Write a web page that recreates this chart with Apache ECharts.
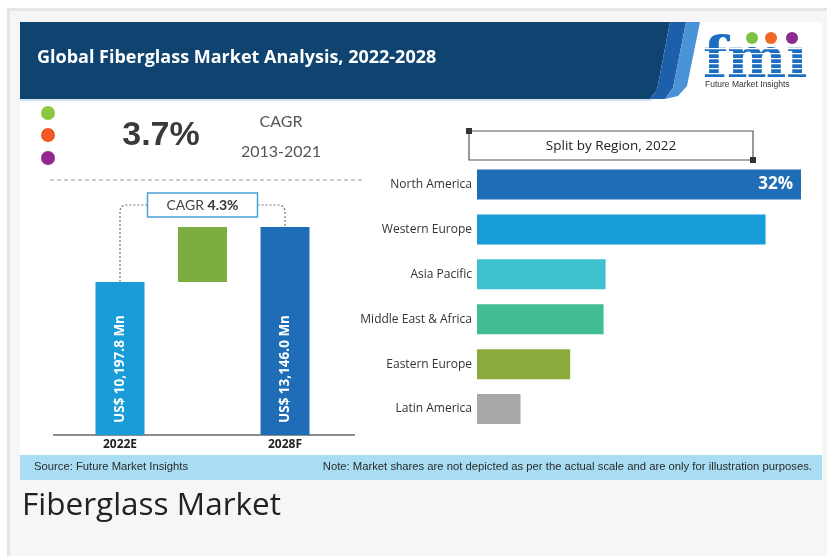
<!DOCTYPE html>
<html><head><meta charset="utf-8">
<script src="https://cdn.jsdelivr.net/npm/echarts/dist/echarts.min.js"></script>
<style>html,body{margin:0;padding:0;background:#fff;}#c{width:827px;height:556px;}</style>
</head><body><div id="c"></div>
<script>
// ---- data ----
const chartTitle = 'Global Fiberglass Market Analysis, 2022-2028';
const years = ['2022E', '', '2028F'];
const marketStart = 10197.8;   // US$ Mn, 2022E
const marketEnd = 13146.0;     // US$ Mn, 2028F
const cagrHistoric = '3.7%';
const cagrHistoricPeriod = '2013-2021';
const cagrForecast = '4.3%';
const regions = ['North America', 'Western Europe', 'Asia Pacific', 'Middle East & Africa', 'Eastern Europe', 'Latin America'];
const regionShares = [32, 28.5, 12.7, 12.5, 9.2, 4.3];
const regionColors = ['#1f6db6', '#179cd8', '#3ec2cf', '#42bd93', '#8cab3c', '#a8a8a8'];
const yearColors = ['#199cd8', '#7cae3f', '#1f6db6'];
const sourceText = 'Source: Future Market Insights';
const noteText = 'Note: Market shares are not depicted as per the actual scale and are only for illustration purposes.';
const pageTitle = 'Fiberglass Market';

const fmtMn = v => 'US$ ' + v.toLocaleString('en-US', {minimumFractionDigits: 1, maximumFractionDigits: 1}) + ' Mn';

const chart = echarts.init(document.getElementById('c'), null, {renderer: 'canvas'});

const baseGraphics = [
  // page frame
  {type: 'rect', z: -20, shape: {x: 8.5, y: 9.5, width: 840, height: 570}, style: {fill: '#f6f6f6', stroke: '#e5e5e5', lineWidth: 3}},
  {type: 'rect', z: -19, shape: {x: 20, y: 22, width: 802, height: 458}, style: {fill: '#ffffff'}},
  // header
  {type: 'polygon', z: -18, shape: {points: [[20, 22], [670, 22], [657, 90], [650, 99], [20, 99]]}, style: {fill: '#0f4471'}},
  {type: 'polygon', z: -18, shape: {points: [[670, 22], [686, 22], [673, 88], [665, 99], [650, 99], [657, 90]]}, style: {fill: '#1d5faa'}},
  {type: 'polygon', z: -18, shape: {points: [[686, 22], [700, 22], [687, 86], [678, 96], [665, 99], [673, 88]]}, style: {fill: '#4a93d6'}},
  {type: 'line', z: -17, shape: {x1: 20, y1: 100, x2: 652, y2: 100}, style: {stroke: '#c3d8eb', lineWidth: 1.5}},
  {type: 'text', style: {text: chartTitle, x: 37, y: 58, fill: '#ffffff', font: 'bold 18px "Open Sans"', verticalAlign: 'middle'}},
  // logo
  {type: 'text', style: {text: 'fmı', x: 703, y: 62, fill: '#1b6ec2', font: 'bold 56px "DejaVu Serif"', verticalAlign: 'middle'}},
  {type: 'circle', shape: {cx: 752, cy: 38, r: 6}, style: {fill: '#7dc242'}},
  {type: 'circle', shape: {cx: 771, cy: 38, r: 6}, style: {fill: '#f26522'}},
  {type: 'circle', shape: {cx: 792, cy: 38, r: 6}, style: {fill: '#8e2a8f'}},
  {type: 'text', style: {text: 'Future Market Insights', x: 705, y: 85, fill: '#333', font: '8.5px "Liberation Sans"', verticalAlign: 'middle'}},
  // left top indicators
  {type: 'circle', shape: {cx: 48, cy: 113, r: 7}, style: {fill: '#8dc63f'}},
  {type: 'circle', shape: {cx: 48, cy: 135, r: 7}, style: {fill: '#f15a24'}},
  {type: 'circle', shape: {cx: 48, cy: 158, r: 7}, style: {fill: '#92278f'}},
  {type: 'text', style: {text: cagrHistoric, x: 161, y: 136, fill: '#3a3a3a', font: 'bold 34px "Liberation Sans"', align: 'center', verticalAlign: 'middle'}},
  {type: 'text', style: {text: 'CAGR', x: 281, y: 122, fill: '#555', font: '16px Lato', align: 'center', verticalAlign: 'middle'}},
  {type: 'text', style: {text: cagrHistoricPeriod, x: 281, y: 152, fill: '#555', font: '16px Lato', align: 'center', verticalAlign: 'middle'}},
  {type: 'line', shape: {x1: 50, y1: 180, x2: 362, y2: 180}, style: {stroke: '#9a9a9a', lineWidth: 1, lineDash: [4, 3]}},
  // split by region box
  {type: 'rect', shape: {x: 469, y: 131, width: 284, height: 29}, style: {fill: '#fff', stroke: '#555', lineWidth: 1.2}},
  {type: 'rect', shape: {x: 466, y: 128, width: 6, height: 6}, style: {fill: '#333'}},
  {type: 'rect', shape: {x: 750, y: 157, width: 6, height: 6}, style: {fill: '#333'}},
  {type: 'text', style: {text: 'Split by Region, 2022', x: 611, y: 146, fill: '#222', font: '13.5px "Open Sans"', align: 'center', verticalAlign: 'middle'}},
  // footer
  {type: 'rect', z: -17, shape: {x: 20, y: 455, width: 802, height: 25}, style: {fill: '#a9ddf3'}},
  {type: 'text', x: 34, y: 467, scaleX: 0.98, style: {text: sourceText, x: 0, y: 0, fill: '#2a2a2a', font: '11.5px "Liberation Sans"', verticalAlign: 'middle'}},
  {type: 'text', x: 812, y: 467, scaleX: 0.98, style: {text: noteText, x: 0, y: 0, fill: '#2a2a2a', font: '11.5px "Liberation Sans"', align: 'right', verticalAlign: 'middle'}},
  {type: 'text', style: {text: pageTitle, x: 22, y: 506, fill: '#222', font: '31.5px "Open Sans"', verticalAlign: 'middle'}}
];
// logo stripes
for (let y = 48; y < 82; y += 5) {
  baseGraphics.push({type: 'rect', z: 5, shape: {x: 702, y: y, width: 110, height: 1.3}, style: {fill: '#ffffff'}});
}

const option = {
  animation: false,
  backgroundColor: '#ffffff',
  grid: [
    {left: 78.75, width: 247.5, top: 227, bottom: 121, containLabel: false, outerBoundsMode: 'none'},
    {left: 477, right: 26, top: 162, bottom: 124.5, containLabel: false, outerBoundsMode: 'none'}
  ],
  xAxis: [
    {type: 'category', gridIndex: 0, data: years, axisLine: {show: false}, axisTick: {show: false}, splitLine: {show: false},
     axisLabel: {color: '#222', fontWeight: 'bold', fontSize: 12, fontFamily: '"Open Sans"', margin: 4}},
    {type: 'value', gridIndex: 1, min: 0, max: 'dataMax', show: false, splitLine: {show: false}}
  ],
  yAxis: [
    {type: 'value', gridIndex: 0, min: 2000, max: 'dataMax', show: false, splitLine: {show: false}},
    {type: 'category', gridIndex: 1, data: regions, inverse: true, axisLine: {show: false}, axisTick: {show: false}, splitLine: {show: false},
     axisLabel: {color: '#333', fontSize: 12, fontFamily: '"Open Sans"', margin: 5}}
  ],
  series: [
    {type: 'bar', xAxisIndex: 0, yAxisIndex: 0, barWidth: 49, barGap: '-100%', clip: true,
     data: [{value: marketStart, itemStyle: {color: yearColors[0]}}, '-', {value: marketEnd, itemStyle: {color: yearColors[2]}}],
     label: {show: true, position: 'insideBottom', rotate: 90, align: 'left', verticalAlign: 'middle', distance: 12,
             color: '#fff', fontWeight: 'bold', fontSize: 13.5, fontFamily: '"Open Sans"',
             formatter: p => fmtMn(p.value)}},
    {type: 'bar', xAxisIndex: 0, yAxisIndex: 0, barWidth: 49, barGap: '-100%', stack: 'rise', clip: true,
     data: ['-', marketStart, '-'], itemStyle: {color: 'rgba(0,0,0,0)'}, silent: true},
    {type: 'bar', xAxisIndex: 0, yAxisIndex: 0, barWidth: 49, barGap: '-100%', stack: 'rise',
     data: ['-', marketEnd - marketStart, '-'], itemStyle: {color: yearColors[1]}},
    {type: 'bar', xAxisIndex: 1, yAxisIndex: 1, barWidth: 30,
     data: regionShares.map((v, i) => ({value: v, itemStyle: {color: regionColors[i]}, label: {show: i === 0}})),
     label: {position: 'insideRight', distance: 8, color: '#fff', fontWeight: 'bold', fontSize: 17, fontFamily: '"Open Sans"', formatter: '{c}%'}}
  ],
  graphic: {elements: baseGraphics}
};
chart.setOption(option);

// connectors between the two year bars via the CAGR box
const p0 = chart.convertToPixel({gridIndex: 0}, [0, marketStart]);
const p2 = chart.convertToPixel({gridIndex: 0}, [2, marketEnd]);
const pBase = chart.convertToPixel({gridIndex: 0}, [0, 2000]);
const boxW = 110, boxH = 24, boxCy = 205;
const boxCx = (p0[0] + p2[0]) / 2;
const bl = boxCx - boxW / 2, br = boxCx + boxW / 2;
const dotted = {fill: null, stroke: '#777', lineWidth: 1.2, lineDash: [2, 2]};
const extra = [
  {type: 'line', shape: {x1: 53, y1: pBase[1], x2: 355, y2: pBase[1]}, style: {stroke: '#666', lineWidth: 1.5}},
  {type: 'polyline', shape: {points: [[p0[0], p0[1]], [p0[0], boxCy + 5], [p0[0] + 1.5, boxCy + 1.5], [p0[0] + 5, boxCy], [bl, boxCy]]}, style: dotted},
  {type: 'polyline', shape: {points: [[br, boxCy], [p2[0] - 5, boxCy], [p2[0] - 1.5, boxCy + 1.5], [p2[0], boxCy + 5], [p2[0], p2[1]]]}, style: dotted},
  {type: 'rect', shape: {x: bl, y: boxCy - boxH / 2, width: boxW, height: boxH}, style: {fill: '#fff', stroke: '#4aa0d9', lineWidth: 1.5}},
  {type: 'text', style: {text: '{n|CAGR }{b|' + cagrForecast + '}', x: boxCx, y: boxCy, align: 'center', verticalAlign: 'middle',
    rich: {n: {fill: '#444', fontSize: 14, fontFamily: 'Lato'}, b: {fill: '#333', fontSize: 14, fontWeight: 'bold', fontFamily: 'Lato'}}}}
];
chart.setOption({graphic: {elements: baseGraphics.concat(extra)}});
</script></body></html>
